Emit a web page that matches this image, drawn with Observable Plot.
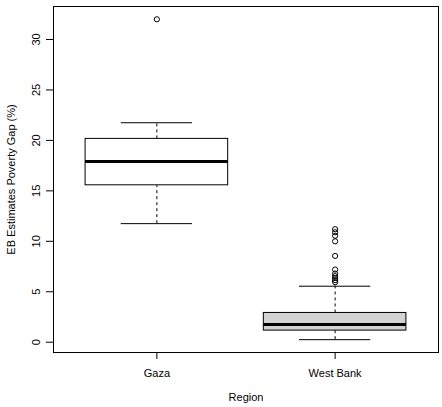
<!DOCTYPE html>
<html>
<head>
<meta charset="utf-8">
<script src="https://cdn.jsdelivr.net/npm/d3@7"></script>
<script src="https://cdn.jsdelivr.net/npm/@observablehq/plot@0.6"></script>
<style>
  html, body { margin: 0; padding: 0; background: #fff; }
  svg { display: block; }
</style>
</head>
<body>
<div id="chart"></div>
<script>
// Box-plot summary of EB poverty-gap estimates by region
const regions = ["Gaza", "West Bank"];
const lowerWhisker = [11.75, 0.25];
const q1 = [15.55, 1.15];
const median = [17.92, 1.75];
const q3 = [20.15, 2.9];
const upperWhisker = [21.75, 5.55];
const boxFill = ["white", "lightgray"];
const gazaOutliers = [32.0];
const westBankOutliers = [11.2, 10.9, 10.55, 10.0, 8.55, 7.2, 6.8, 6.55, 6.35, 6.15, 5.95];
const yTicks = [0, 5, 10, 15, 20, 25, 30];

const boxWidth = 0.8;
const boxes = regions.map((r, i) => ({
  region: r,
  pos: i + 1,
  lo: lowerWhisker[i],
  q1: q1[i],
  med: median[i],
  q3: q3[i],
  hi: upperWhisker[i],
  fill: boxFill[i]
}));
const outliers = [
  ...gazaOutliers.map(v => ({pos: 1, value: v})),
  ...westBankOutliers.map(v => ({pos: 2, value: v}))
];

// R-style axis limits: data range padded by 4% on each side
const allValues = [...lowerWhisker, ...upperWhisker, ...gazaOutliers, ...westBankOutliers];
const [vmin, vmax] = d3.extent(allValues);
const pad = (vmax - vmin) * 0.04;
const xPad = (2.5 - 0.5) * 0.04;

const font = "Liberation Sans, Arial, Helvetica, sans-serif";

const chart = Plot.plot({
  width: 442,
  height: 407,
  marginLeft: 53,
  marginRight: 4,
  marginTop: 6,
  marginBottom: 55,
  style: {fontFamily: font, fontSize: "11px", color: "#000", background: "#fff"},
  x: {domain: [0.5 - xPad, 2.5 + xPad], axis: null},
  y: {domain: [vmin - pad, vmax + pad], axis: null},
  marks: [
    // whiskers (dashed)
    Plot.ruleX(boxes, {x: "pos", y1: "q3", y2: "hi", stroke: "#000", strokeDasharray: "3,3"}),
    Plot.ruleX(boxes, {x: "pos", y1: "lo", y2: "q1", stroke: "#000", strokeDasharray: "3,3"}),
    // whisker caps
    Plot.ruleY(boxes, {y: "hi", x1: d => d.pos - boxWidth / 4, x2: d => d.pos + boxWidth / 4, stroke: "#000"}),
    Plot.ruleY(boxes, {y: "lo", x1: d => d.pos - boxWidth / 4, x2: d => d.pos + boxWidth / 4, stroke: "#000"}),
    // boxes
    Plot.rect(boxes, {x1: d => d.pos - boxWidth / 2, x2: d => d.pos + boxWidth / 2, y1: "q1", y2: "q3", fill: "fill", stroke: "#000", strokeWidth: 1}),
    // medians
    Plot.ruleY(boxes, {y: "med", x1: d => d.pos - boxWidth / 2, x2: d => d.pos + boxWidth / 2, stroke: "#000", strokeWidth: 3}),
    // outliers
    Plot.dot(outliers, {x: "pos", y: "value", r: 2.6, stroke: "#000", fill: "none", strokeWidth: 1}),
    Plot.frame({stroke: "#000"}),
    Plot.axisY({ticks: yTicks, tickSize: 7, tickPadding: 7, tickRotate: -90, fontSize: 11, label: null}),
    Plot.axisX({ticks: [1, 2], tickFormat: d => regions[d - 1], tickSize: 7, tickPadding: 10, fontSize: 11, label: null}),
    Plot.text(["Region"], {frameAnchor: "bottom", dy: 48, fontSize: 11, fill: "#000"}),
    Plot.text(["EB Estimates Poverty Gap (%)"], {frameAnchor: "left", textAnchor: "middle", dx: -42, rotate: -90, fontSize: 11, fill: "#000"})
  ]
});

document.getElementById("chart").append(chart);
</script>
</body>
</html>
